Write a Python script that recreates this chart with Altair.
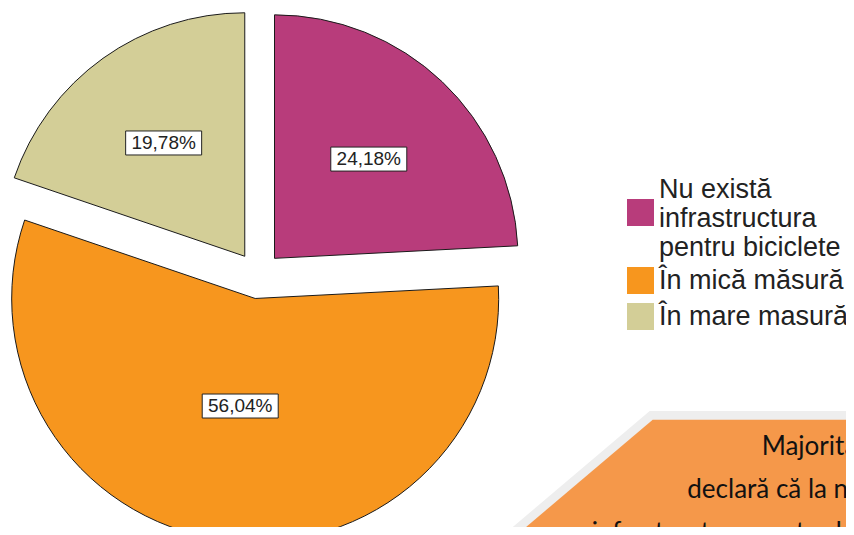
import json
import altair as alt
import pandas as pd

# ---- data ----
categories = ["Nu există infrastructura pentru biciclete", "În mică măsură", "În mare masură"]
percents = [24.18, 56.04, 19.78]
slice_colors = ["#B83C7B", "#F7961E", "#D3CE97"]
legend_first_lines = ["Nu există", "infrastructura", "pentru biciclete"]
note_lines = ["Majoritatea respondenților", "declară că la nivelul localității nu există",
              "infrastructura pentru biciclete"]

# ---- layout (pixels, chart coordinates) ----
W, H = 838, 519
CX, CY = 250.4, 267.3
R = 243.5
EXPLODE = 23.4
SWATCH = 27
SWATCH_DROP = 23     # drop of the 3-line entry's swatch, in px

df = pd.DataFrame({"cat": categories, "pct": percents, "order": list(range(len(categories)))})

base = (
    alt.Chart(df)
    .transform_window(cum="sum(pct)", sort=[alt.SortField("order")])
    .transform_calculate(end="datum.cum / 100 * 2 * PI")
    .transform_calculate(start="(datum.cum - datum.pct) / 100 * 2 * PI")
    .transform_calculate(mid="(datum.start + datum.end) / 2")
    .transform_calculate(half="(datum.end - datum.start) / 2")
    .transform_calculate(cx=f"{CX} + {EXPLODE} * sin(datum.mid)")
    .transform_calculate(cy=f"{CY} - {EXPLODE} * cos(datum.mid)")
    .transform_calculate(lr=f"{R} * (0.26 + sin(datum.half) / (3 * datum.half))")
    .transform_calculate(lx="datum.cx + datum.lr * sin(datum.mid)")
    .transform_calculate(ly="datum.cy - datum.lr * cos(datum.mid)")
    .transform_calculate(bx1="datum.lx - 38", bx2="datum.lx + 38",
                         by1="datum.ly - 12", by2="datum.ly + 12")
    .transform_calculate(lbl="replace(format(datum.pct, '.2f'), '.', ',') + '%'")
)

# legend: the swatch of the 3-line entry sits on its middle line
first_cat = json.dumps(categories[0], ensure_ascii=False)
label_expr = (
    f"datum.label == {first_cat} ? "
    f"{json.dumps(legend_first_lines, ensure_ascii=False)} : datum.label"
)
shift = SWATCH_DROP / (SWATCH / 2)   # in symbol units
shifted_square = f"M-1,{shift - 1:.3f}L1,{shift - 1:.3f}L1,{shift + 1:.3f}L-1,{shift + 1:.3f}Z"
legend_shapes = [shifted_square, "square", "square"]


def make_legend():
    return alt.Legend(
        title=None, orient="none", legendX=618, legendY=167,
        symbolSize=SWATCH * SWATCH, symbolOpacity=1,
        symbolStrokeColor="#222", symbolStrokeWidth=1.5,
        labelFont="Liberation Sans", labelFontSize=27, labelColor="#222",
        labelOffset=4, labelLimit=600, rowPadding=3, padding=0,
        labelExpr=label_expr,
    )


color_enc = alt.Color("cat:N", sort=categories,
                      scale=alt.Scale(domain=categories, range=slice_colors),
                      legend=make_legend())

pie = base.mark_arc(radius=R, stroke="#1a1a1a", strokeWidth=1, clip=True).encode(
    x=alt.X("cx:Q", scale=None, axis=None),
    y=alt.Y("cy:Q", scale=None, axis=None),
    theta=alt.Theta("start:Q", scale=None, stack=False),
    theta2="end:Q",
    color=color_enc,
)

# zero-size points that only carry the legend's swatch shapes
legend_carrier = base.mark_point(filled=True, size=0).encode(
    x=alt.X("cx:Q", scale=None, axis=None),
    y=alt.Y("cy:Q", scale=None, axis=None),
    color=color_enc,
    shape=alt.Shape("cat:N", sort=categories,
                    scale=alt.Scale(domain=categories, range=legend_shapes),
                    legend=make_legend()),
)

boxes = base.mark_rect(fill="white", stroke="#222", strokeWidth=1).encode(
    x=alt.X("bx1:Q", scale=None, axis=None), x2="bx2:Q",
    y=alt.Y("by1:Q", scale=None, axis=None), y2="by2:Q",
)

texts = base.mark_text(font="Liberation Sans", fontSize=19, color="#222",
                       align="center", baseline="middle").encode(
    x=alt.X("lx:Q", scale=None, axis=None),
    y=alt.Y("ly:Q", scale=None, axis=None),
    text="lbl:N",
)

# ---- decorative callout (annotation in pixel space) ----
shadow_df = pd.DataFrame({"x": [504.8, 641.7, W], "y": [H, 403.0, 403.0], "b": [H, H, H]})
callout_df = pd.DataFrame({"x": [518.1, 644.7, W], "y": [H, 411.7, 411.7], "b": [H, H, H]})

shadow = alt.Chart(shadow_df).mark_area(color="#EEEEEE", clip=True).encode(
    x=alt.X("x:Q", scale=None, axis=None),
    y=alt.Y("y:Q", scale=None, axis=None),
    y2="b:Q",
)
callout = alt.Chart(callout_df).mark_area(color="#F5984A", clip=True).encode(
    x=alt.X("x:Q", scale=None, axis=None),
    y=alt.Y("y:Q", scale=None, axis=None),
    y2="b:Q",
)
note_df = pd.DataFrame({"t": note_lines, "x": [753.7, 679.3, 583.7], "y": [447.0, 490.3, 533.0]})
note = alt.Chart(note_df).mark_text(font="Lato", fontSize=26, color="#111",
                                    align="left", baseline="alphabetic", clip=True).encode(
    x=alt.X("x:Q", scale=None, axis=None),
    y=alt.Y("y:Q", scale=None, axis=None),
    text="t:N",
)

chart = (
    alt.layer(shadow, callout, note, pie, legend_carrier, boxes, texts)
    .properties(width=W, height=H, padding=0, autosize=alt.AutoSizeParams(type="none"),
                background="white")
    .configure_view(stroke=None)
    .configure_legend(symbolStrokeColor="#222", symbolStrokeWidth=1.5)
)

chart.save("out.html", embed_options={"renderer": "svg", "actions": False})
